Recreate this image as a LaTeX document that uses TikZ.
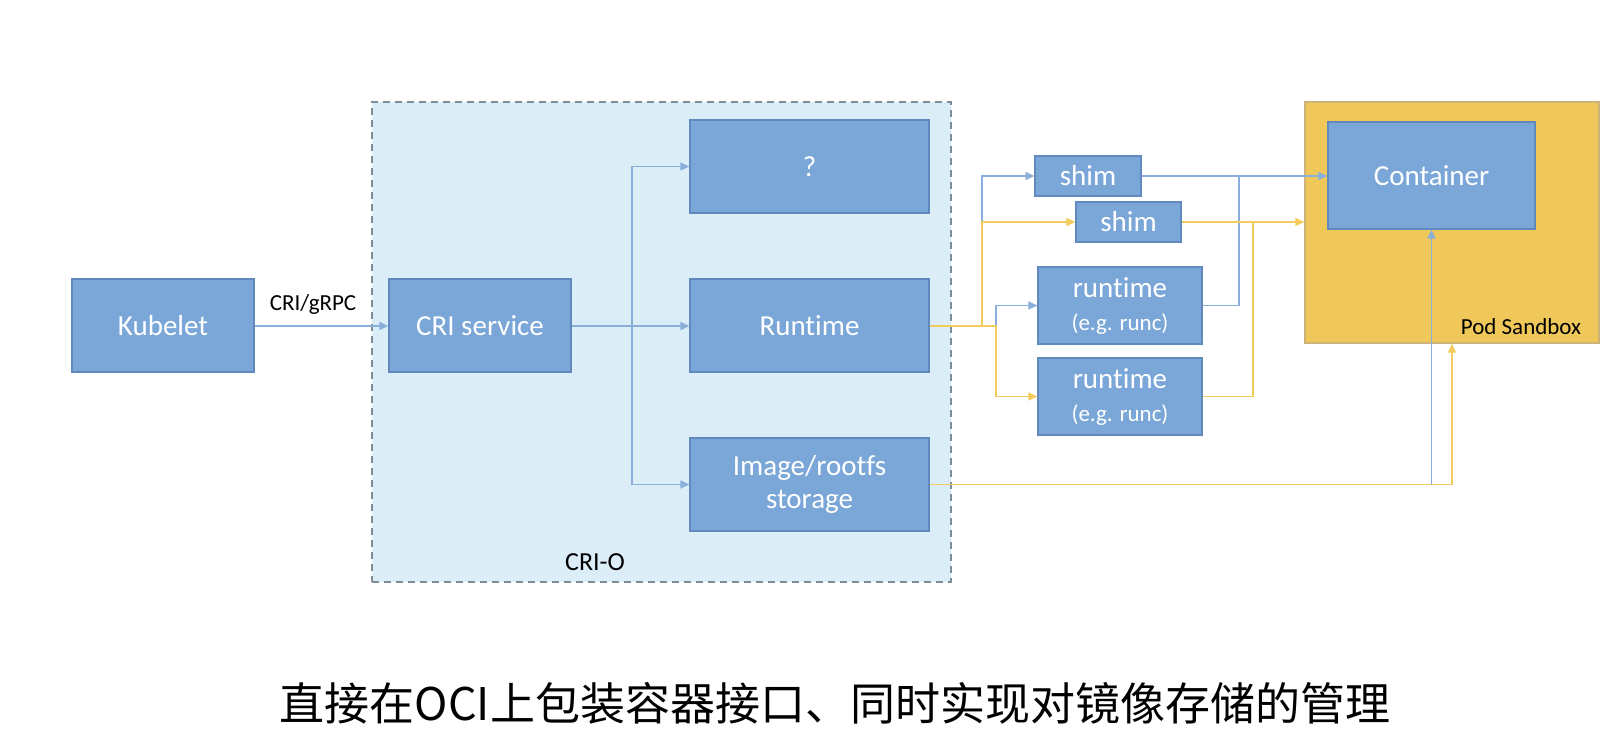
\documentclass[tikz,border=0pt]{standalone}
\usepackage{fontspec}
\setmainfont{Carlito}[Ligatures=NoCommon]
\newfontfamily\cjk{Noto Sans CJK SC}
\usetikzlibrary{arrows.meta}
\definecolor{boxblue}{HTML}{7BA7D8}
\definecolor{boxedge}{HTML}{6189BE}
\definecolor{lineblue}{HTML}{8AAFDB}
\definecolor{lineyellow}{HTML}{F2CC5C}
\definecolor{podfill}{HTML}{F0C85A}
\definecolor{podedge}{HTML}{CDB27A}
\definecolor{criofill}{HTML}{DBEEF8}
\definecolor{crioedge}{HTML}{7F8C99}
\newcommand\smallsz{\fontsize{23}{28}\selectfont}
\begin{document}
\begin{tikzpicture}[x=1pt,y=-1pt,
  box/.style={draw=boxedge, fill=boxblue, text=white, line width=1.2pt, inner sep=0pt, align=center, font=\fontsize{29}{33}\selectfont},
  bluearrow/.style={draw=lineblue, line width=1.5pt, -{Triangle[length=9pt,width=8pt]}},
  blueline/.style={draw=lineblue, line width=1.5pt},
  yellowarrow/.style={draw=lineyellow, line width=1.5pt, -{Triangle[length=9pt,width=8pt]}},
  yellowline/.style={draw=lineyellow, line width=1.5pt},
  lbl/.style={font=\fontsize{23}{27}\selectfont, text=black, inner sep=0pt}]
\useasboundingbox[fill=white] (0,0) rectangle (1608,742);

% containers
\node[draw=crioedge, fill=criofill, line width=2pt, dash pattern=on 7pt off 5pt,
      minimum width=579pt, minimum height=480pt, inner sep=0pt] (crio) at (661.5,342) {};
\node[draw=podedge, fill=podfill, line width=1.2pt, minimum width=294pt, minimum height=241pt, inner sep=0pt] (pod) at (1452,222.5) {};

% boxes
\node[box, minimum width=182pt, minimum height=93pt] (kubelet) at (163,325.5) {Kubelet};
\node[box, minimum width=182pt, minimum height=93pt] (crisvc) at (480,325.5) {CRI service};
\node[box, minimum width=239pt, minimum height=93pt] (q) at (809.5,166.5) {?};
\node[box, minimum width=239pt, minimum height=93pt] (runtime) at (809.5,325.5) {Runtime};
\node[box, minimum width=239pt, minimum height=93pt] (image) at (809.5,484.5) {Image/rootfs\\storage};
\node[box, minimum width=106pt, minimum height=40pt] (shim1) at (1088,176) {shim};
\node[box, minimum width=105pt, minimum height=40pt] (shim2) at (1128.5,222) {shim};
\node[box, minimum width=164pt, minimum height=77pt] (rt1) at (1120,305.5) {runtime\\\smallsz (e.g. runc)};
\node[box, minimum width=164pt, minimum height=77pt] (rt2) at (1120,396.5) {runtime\\\smallsz (e.g. runc)};
\node[box, minimum width=207pt, minimum height=107pt] (container) at (1431.5,175.5) {Container};

% labels
\node[lbl] (grpc) at (313,304) {CRI/gRPC};
\node[lbl, font=\fontsize{26}{30}\selectfont] (criolbl) at (595,562) {CRI-O};
\node[lbl] (podlbl) at (1521,327) {Pod Sandbox};
\node[font=\cjk\fontsize{45}{50}\selectfont] (title) at (835,703) {直接在OCI上包装容器接口、同时实现对镜像存储的管理};

% branch coordinates
\coordinate (b1) at (632,326);
\coordinate (b2) at (982,326);
\coordinate (b3) at (996,326);
\coordinate (j1) at (1239,176);
\coordinate (j2) at (1253,222);

% left connectors
\draw[bluearrow] (kubelet.east |- b1) -- (crisvc.west |- b1);
\draw[bluearrow] (crisvc.east |- b1) -- (runtime.west |- b1);
\draw[bluearrow] (b1) |- (q.west);
\draw[bluearrow] (b1) |- (image.west |- 0,484.5);

% runtime fan-out (blue under yellow)
\draw[bluearrow] (b2) |- (shim1.west);
\draw[bluearrow] (b3) |- (rt1.west);
\draw[yellowline] (runtime.east |- b1) -- (b3);
\draw[yellowarrow] (b2) |- (shim2.west);
\draw[yellowarrow] (b3) |- (rt2.west);

% to container / pod
\draw[blueline] (rt1.east) -| (j1);
\draw[bluearrow] (shim1.east) -- (container.west |- shim1.east);
\draw[yellowline] (rt2.east) -| (j2);
\draw[yellowarrow] (shim2.east) -- (pod.west |- shim2.east);

% storage to pod
\draw[yellowarrow] (image.east) -| (pod.south);
\draw[bluearrow] (image.east -| container.south) -- (container.south);
\end{tikzpicture}
\end{document}
